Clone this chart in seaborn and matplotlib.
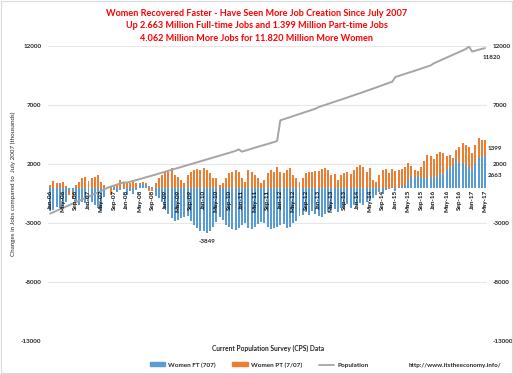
import numpy as np
import pandas as pd
import matplotlib
matplotlib.use("Agg")
import matplotlib.pyplot as plt
import seaborn as sns

# months Jan-06 .. May-17
months = pd.date_range("2006-01-01", "2017-05-01", freq="MS")
month_labels = [d.strftime("%b-%y") for d in months]

# Women full-time jobs vs July 2007 (thousands)
women_ft = [
    -2000, -1900, -1600, -1700, -1500, -1200, -300, -500, -1300, -1500, -1200, -1300,
    -1500, -1200, -1500, -1700, -2000, -800, 0, 50, -200, -400, -200, -100,
    -600, -300, -500, -200, 300, 350, 250, 150, 50, -700, -900, -1200,
    -1700, -2200, -2600, -2800, -2700, -2600, -2500, -2400, -2800, -3200, -3400, -3700,
    -3700, -3849, -3700, -3300, -2900, -2500, -2700, -3200, -3300, -3500, -3600, -3400,
    -3200, -3000, -3400, -3500, -3300, -3100, -2900, -3000, -3300, -3500, -3400, -3300,
    -3200, -3100, -3400, -3300, -3000, -2800, -2400, -2300, -2100, -2300, -2000, -2200,
    -2400, -2500, -2200, -2100, -1900, -1800, -2100, -1700, -1600, -1400, -1700, -1500,
    -1500, -1300, -1500, -1200, -1100, -900, -600, -400, -500, -200, -100, -50,
    -250, 80, 100, 230, 650, 880, 930, 990, 790, 850, 850, 930,
    880, 930, 1270, 1160, 1500, 1780, 1920, 2400, 2060, 2120, 1920, 1780,
    1550, 2060, 2490, 2680, 2663,
]

# Women part-time jobs vs July 2007 (thousands)
women_pt = [
    230, 565, 420, 420, 450, 100, -350, -500, 230, 500, 800, 900,
    600, 800, 930, 1070, 500, 230, 0, -600, 100, 230, 650, 500,
    500, 370, 650, 370, 100, 150, 120, -280, -300, 370, 800, 1070,
    1350, 1500, 1640, 1070, 930, 650, 370, 1070, 1350, 1500, 1580, 1500,
    1640, 1500, 1210, 800, 800, 230, 370, 800, 1210, 1350, 1500, 1350,
    800, 500, 1500, 1350, 1070, 800, 370, 650, 1210, 1500, 1350, 1780,
    1350, 1210, 1500, 1640, 1070, 800, 500, 800, 1210, 1350, 1300, 1410,
    1440, 1550, 1640, 1500, 1070, 1160, 650, 1070, 1210, 1350, 1160, 1500,
    1780, 1920, 1780, 1350, 1640, 650, 500, 1070, 1500, 1550, 1270, 1550,
    1440, 1420, 1450, 1550, 1410, 960, 570, 460, 930, 1440, 1920, 1750,
    1520, 1920, 1720, 1750, 1180, 990, 570, 790, 1410, 1640, 1700, 1640,
    1360, 1560, 1690, 1360, 1399,
]

# Women population change vs July 2007 (thousands)
population = [
    -2200, -2080, -1960, -1840, -1720, -1600, -1480, -1360, -1240, -1120, -1000, -880,
    -760, -640, -520, -400, -280, -140, 0, 90, 180, 270, 360, 450,
    430, 500, 570, 650, 720, 800, 880, 950, 1030, 1110, 1190, 1270,
    1350, 1430, 1510, 1590, 1670, 1750, 1830, 1910, 1990, 2070, 2150, 2230,
    2310, 2390, 2470, 2550, 2630, 2710, 2790, 2870, 2950, 3030, 3110, 3240,
    3050, 3130, 3210, 3300, 3380, 3460, 3540, 3620, 3700, 3780, 3860, 3950,
    5700, 5790, 5880, 5970, 6060, 6150, 6240, 6330, 6420, 6510, 6600, 6690,
    6830, 6920, 7010, 7100, 7190, 7280, 7370, 7460, 7550, 7640, 7740, 7830,
    7920, 8010, 8110, 8200, 8300, 8390, 8490, 8590, 8690, 8780, 8880, 8970,
    9380, 9460, 9550, 9640, 9730, 9810, 9900, 9990, 10080, 10170, 10260, 10350,
    10530, 10650, 10770, 10890, 11010, 11130, 11250, 11370, 11490, 11610, 11740, 11950,
    11530, 11600, 11680, 11750, 11820,
]

y_ticks = [12000, 7000, 2000, -3000, -8000, -13000]

BLUE = "#5B9BD5"
ORANGE = "#ED7D31"
GRAY = "#A5A5A5"

sns.set_theme(style="white")
plt.rcParams["font.family"] = ["Lato", "DejaVu Sans"]

df = pd.DataFrame({"month": month_labels, "ft": women_ft, "pt": women_pt, "pop": population})
df["pos"] = np.arange(len(df))

fig = plt.figure(figsize=(5.13, 3.74), dpi=100)
ax = fig.add_axes([0.094, 0.088, 0.855, 0.789])

BW = 0.62
# FT bars from zero, PT stacked on top (Excel-style: positives and negatives stack separately)
sns.barplot(data=df, x="pos", y="ft", color=BLUE, width=BW, ax=ax, saturation=1,
            linewidth=0, edgecolor=BLUE)
ft = df["ft"].to_numpy()
pt = df["pt"].to_numpy()
bottom = np.where(np.sign(ft) == np.sign(pt), ft, 0)
ax.bar(df["pos"], pt, bottom=bottom, width=BW, color=ORANGE, linewidth=0)

sns.lineplot(data=df, x="pos", y="pop", color=GRAY, linewidth=1.4, ax=ax)

ax.set_xlim(-0.6, len(df) - 0.4)
ax.set_ylim(-13000, 12000)
ax.set_yticks(y_ticks)
ax.set_yticklabels([str(t) for t in y_ticks], fontsize=4.5, fontweight="bold")
ax.tick_params(axis="y", length=0, pad=5)
ax.set_xticks([])
ax.set_xlabel("")
ax.set_ylabel("")
ax.grid(axis="y", color="#E6E6E6", linewidth=0.8)
ax.set_axisbelow(True)
for s in ax.spines.values():
    s.set_visible(False)

ax2 = ax.twinx()
ax2.set_ylim(-13000, 12000)
ax2.set_yticks(y_ticks)
ax2.set_yticklabels([str(t) for t in y_ticks], fontsize=4.5, fontweight="bold")
ax2.tick_params(axis="y", length=0, pad=4)
ax2.grid(False)
for s in ax2.spines.values():
    s.set_visible(False)

# month labels every 4 months, sitting on the zero line
for i in range(0, len(df), 4):
    ax.text(i, -150, month_labels[i], rotation=90, ha="center", va="top",
            fontsize=4.6, fontweight="bold", color="#111111")

# data labels
ax.text(49, -4350, "-3849", ha="center", va="top", fontsize=4.5, fontweight="bold")
ax.text(138.2, 11050, "11820", ha="center", va="center", fontsize=4.5,
        fontweight="bold", clip_on=False)
ax.text(139.2, 3350, "1399", ha="center", va="center", fontsize=4.5,
        fontweight="bold", clip_on=False)
ax.text(139.2, 1070, "2663", ha="center", va="center", fontsize=4.5,
        fontweight="bold", clip_on=False)

fig.text(13 / 513, 1 - 184 / 374, "Changes in Jobs compared to  July 2007 (thousands)",
         rotation=90, ha="center", va="center", fontsize=4.5)

# titles
red = "#FF0000"
fig.text(0.5, 1 - 13.5 / 374, "Women Recovered Faster - Have Seen More Job Creation Since July 2007",
         ha="center", va="center", color=red, fontsize=6.6, fontweight="bold")
fig.text(0.5, 1 - 26 / 374, "Up 2.663 Million Full-time Jobs and 1.399 Million Part-time Jobs",
         ha="center", va="center", color=red, fontsize=6.6, fontweight="bold")
fig.text(0.5, 1 - 38.5 / 374, "4.062 Million More Jobs for 11.820 Million More Women",
         ha="center", va="center", color=red, fontsize=6.6, fontweight="bold")

fig.text(268 / 513, 1 - 348 / 374, "Current Population Survey (CPS) Data",
         ha="center", va="center", fontsize=4.8, fontweight="bold")

# legend
handles = [
    plt.Rectangle((0, 0), 1, 1, color=BLUE),
    plt.Rectangle((0, 0), 1, 1, color=ORANGE),
    plt.Line2D([0], [0], color=GRAY, linewidth=1.3),
]
fig.legend(handles, ["Women FT (707)", "Women PT (7/07)", "Population"],
           loc="center", bbox_to_anchor=(259 / 513, 1 - 365 / 374), ncol=3,
           frameon=False, prop={"size": 4.6, "weight": "bold"},
           handlelength=2.4, handleheight=0.6, columnspacing=2.6, handletextpad=0.5)

fig.text(455 / 513, 1 - 365 / 374, "http://www.itstheeconomy.info/",
         ha="center", va="center", fontsize=4.5, fontweight="bold")

fig.patches.append(plt.Rectangle((0.001, 0.002), 0.997, 0.996, transform=fig.transFigure,
                                 fill=False, edgecolor="#D9D9D9", linewidth=0.8))

fig.savefig("out.png", dpi=100)
